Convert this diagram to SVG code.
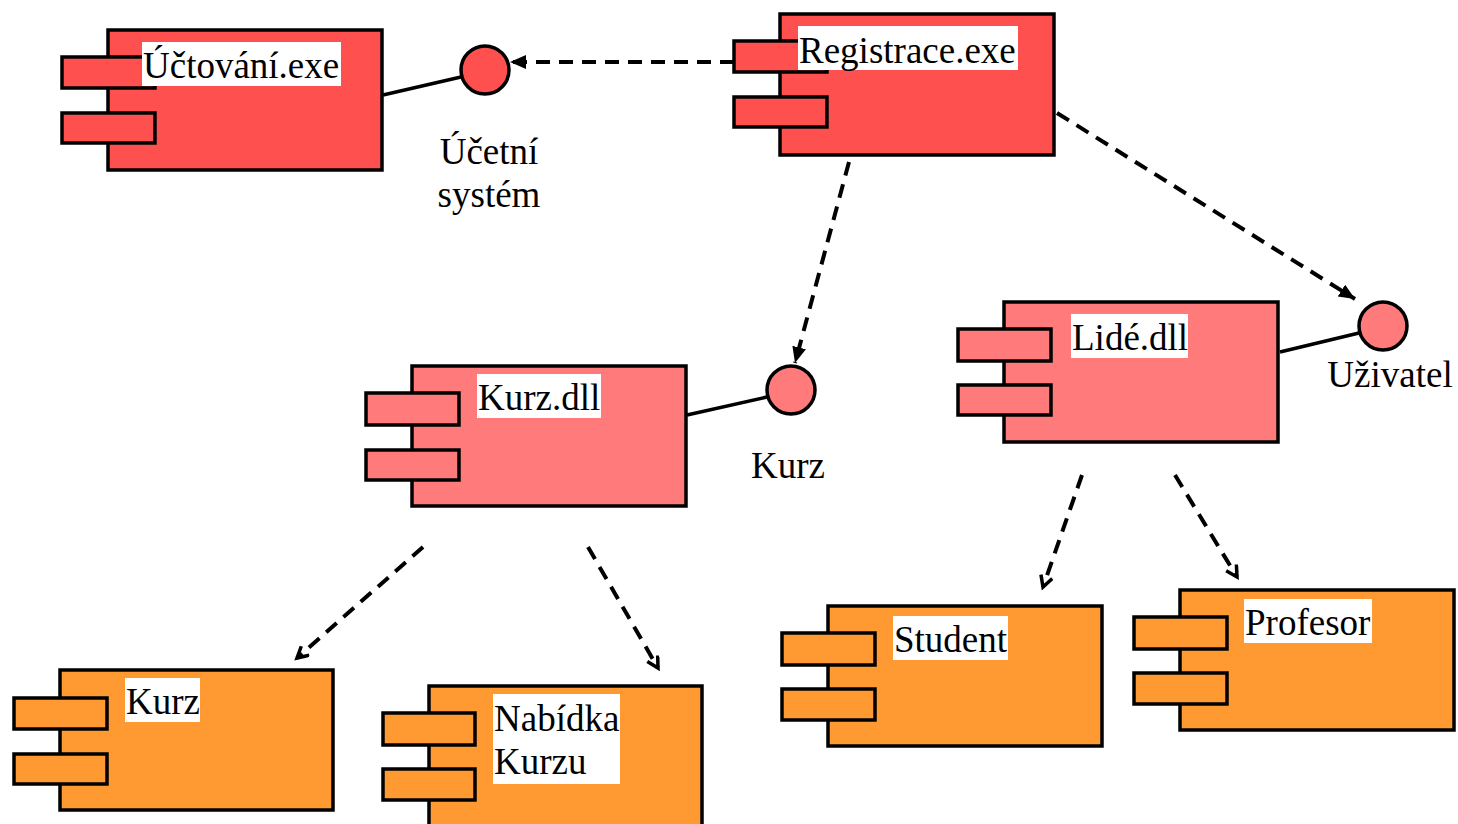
<svg xmlns="http://www.w3.org/2000/svg" width="1458" height="824" viewBox="0 0 1458 824">
<style>
.red{fill:#FF5050;stroke:#000;stroke-width:3.5}
.pink{fill:#FF7B7B;stroke:#000;stroke-width:3.5}
.orange{fill:#FF9A33;stroke:#000;stroke-width:3.5}
.lbl{fill:#fff}
.t{font-family:"Liberation Serif","Times New Roman",serif;font-size:37px;fill:#000}
.solid{stroke:#000;stroke-width:3.5;fill:none}
.dash{stroke:#000;stroke-width:4;fill:none;stroke-dasharray:14 9}
</style>
<defs>
<marker id="tri" markerUnits="userSpaceOnUse" markerWidth="18" markerHeight="16" refX="16" refY="7" orient="auto">
<path d="M0,0 L16,7 L0,14 Z" fill="#000"/>
</marker>
<marker id="vee" markerUnits="userSpaceOnUse" markerWidth="16" markerHeight="16" refX="12" refY="7" orient="auto">
<path d="M1,1 L12,7 L1,13" fill="none" stroke="#000" stroke-width="3.5"/>
</marker>
</defs>

<g id="uctovani">
<rect class="red" x="108" y="30" width="274" height="140"/>
<rect class="red" x="62" y="57" width="93" height="31"/>
<rect class="red" x="62" y="113" width="93" height="30"/>
<rect class="lbl" x="142" y="42" width="199" height="44"/>
<text class="t" x="143" y="78">Účtování.exe</text>
</g>

<g id="registrace">
<rect class="red" x="780" y="14" width="274" height="141"/>
<rect class="red" x="734" y="41" width="93" height="31"/>
<rect class="red" x="734" y="97" width="93" height="30"/>
<rect class="lbl" x="798" y="26" width="220" height="44"/>
<text class="t" x="799" y="63">Registrace.exe</text>
</g>

<g id="ucetni-system">
<circle class="red" cx="485" cy="70" r="24"/>
<text class="t" x="489" y="164" text-anchor="middle">Účetní</text>
<text class="t" x="489" y="207" text-anchor="middle">systém</text>
</g>

<g id="kurz-dll">
<rect class="pink" x="412" y="366" width="274" height="140"/>
<rect class="pink" x="366" y="393" width="93" height="32"/>
<rect class="pink" x="366" y="450" width="93" height="30"/>
<rect class="lbl" x="477" y="374" width="124" height="44"/>
<text class="t" x="478" y="410">Kurz.dll</text>
</g>

<g id="kurz-iface">
<circle class="pink" cx="791" cy="390" r="24"/>
<text class="t" x="788" y="478" text-anchor="middle">Kurz</text>
</g>

<g id="lide-dll">
<rect class="pink" x="1004" y="302" width="274" height="140"/>
<rect class="pink" x="958" y="329" width="93" height="32"/>
<rect class="pink" x="958" y="385" width="93" height="30"/>
<rect class="lbl" x="1071" y="314" width="117" height="44"/>
<text class="t" x="1072" y="350">Lidé.dll</text>
</g>

<g id="uzivatel">
<circle class="pink" cx="1383" cy="326" r="24"/>
<text class="t" x="1390" y="387" text-anchor="middle">Uživatel</text>
</g>

<g id="kurz">
<rect class="orange" x="60" y="670" width="273" height="140"/>
<rect class="orange" x="14" y="698" width="93" height="31"/>
<rect class="orange" x="14" y="754" width="93" height="30"/>
<rect class="lbl" x="125" y="678" width="75" height="44"/>
<text class="t" x="126" y="714">Kurz</text>
</g>

<g id="nabidka-kurzu">
<rect class="orange" x="429" y="686" width="273" height="145"/>
<rect class="orange" x="383" y="713" width="92" height="32"/>
<rect class="orange" x="383" y="769" width="92" height="31"/>
<rect class="lbl" x="493" y="694" width="127" height="90"/>
<text class="t" x="494" y="731">Nabídka</text>
<text class="t" x="494" y="774">Kurzu</text>
</g>

<g id="student">
<rect class="orange" x="828" y="606" width="274" height="140"/>
<rect class="orange" x="782" y="633" width="93" height="32"/>
<rect class="orange" x="782" y="689" width="93" height="31"/>
<rect class="lbl" x="893" y="616" width="115" height="44"/>
<text class="t" x="894" y="652">Student</text>
</g>

<g id="profesor">
<rect class="orange" x="1180" y="590" width="274" height="140"/>
<rect class="orange" x="1134" y="617" width="93" height="32"/>
<rect class="orange" x="1134" y="673" width="93" height="31"/>
<rect class="lbl" x="1244" y="599" width="128" height="44"/>
<text class="t" x="1245" y="635">Profesor</text>
</g>

<g id="connectors">
<line class="solid" x1="383" y1="95" x2="461" y2="77"/>
<line class="solid" x1="687" y1="415" x2="767" y2="397"/>
<line class="solid" x1="1280" y1="352" x2="1359" y2="333"/>
<line class="dash" x1="734" y1="62" x2="510" y2="62" marker-end="url(#tri)"/>
<line class="dash" x1="849" y1="162" x2="795" y2="363" marker-end="url(#tri)"/>
<line class="dash" x1="1057" y1="113" x2="1355" y2="299" marker-end="url(#tri)"/>
<line class="dash" x1="423" y1="547" x2="297" y2="658" marker-end="url(#vee)"/>
<line class="dash" x1="588" y1="547" x2="658" y2="668" marker-end="url(#vee)"/>
<line class="dash" x1="1082" y1="475" x2="1043" y2="587" marker-end="url(#vee)"/>
<line class="dash" x1="1175" y1="475" x2="1237" y2="577" marker-end="url(#vee)"/>
</g>
</svg>
